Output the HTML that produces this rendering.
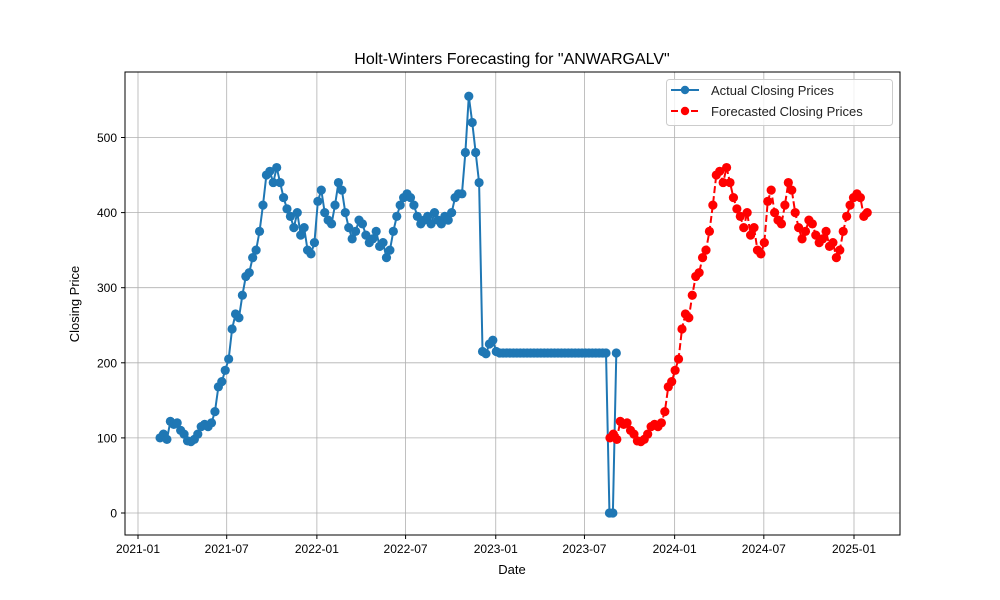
<!DOCTYPE html>
<html><head><meta charset="utf-8"><style>
body{margin:0;background:#fff;}
svg{display:block;font-family:"Liberation Sans","DejaVu Sans",sans-serif;}
</style></head><body>
<svg id="chart" width="1000" height="600" viewBox="0 0 1000 600">
<rect x="0" y="0" width="1000" height="600" fill="#fff"/>
<g id="grid"></g>
<g id="series"></g>
<rect x="125" y="72" width="775" height="463" fill="none" stroke="#000" stroke-width="1"/>
<g id="ticks"></g>
<text x="512" y="64" text-anchor="middle" font-size="16">Holt-Winters Forecasting for "ANWARGALV"</text>
<text x="512" y="574" text-anchor="middle" font-size="13">Date</text>
<text x="79" y="304" text-anchor="middle" font-size="13" transform="rotate(-90 79 304)">Closing Price</text>
<g>
<rect x="666.5" y="79.5" width="226" height="46" rx="3" fill="#fff" fill-opacity="0.8" stroke="#ccc"/>
<g>
<line x1="671" y1="90" x2="699" y2="90" stroke="#1f77b4" stroke-width="2"/>
<circle cx="685" cy="90" r="4.2" fill="#1f77b4"/>
<text x="711" y="95" font-size="13" fill="#222">Actual Closing Prices</text></g>
<g>
<line x1="671" y1="111" x2="699" y2="111" stroke="#f00" stroke-width="2" stroke-dasharray="7,3"/>
<circle cx="685" cy="111" r="4.2" fill="#f00"/>
<text x="711" y="116" font-size="13" fill="#222">Forecasted Closing Prices</text></g>
</g>
</svg>
<script>
const actualStart = "2021-02-15";
const actualValues = [100,105,98,122,118,120,110,105,96,95,98,105,115,118,115,120,135,168,175,190,205,245,265,260,290,315,320,340,350,375,410,450,455,440,460,440,420,405,395,380,400,370,380,350,345,360,415,430,400,390,385,410,440,430,400,380,365,375,390,385,370,360,365,375,355,360,340,350,375,395,410,420,425,420,410,395,385,390,395,385,400,390,385,395,390,400,420,425,425,480,555,520,480,440,215,212,225,230,215,213,213,213,213,213,213,213,213,213,213,213,213,213,213,213,213,213,213,213,213,213,213,213,213,213,213,213,213,213,213,213,213,0,0,213];
const forecastStart = "2023-08-22";
const forecastValues = [100,105,98,122,118,120,110,105,96,95,98,105,115,118,115,120,135,168,175,190,205,245,265,260,290,315,320,340,350,375,410,450,455,440,460,440,420,405,395,380,400,370,380,350,345,360,415,430,400,390,385,410,440,430,400,380,365,375,390,385,370,360,365,375,355,360,340,350,375,395,410,420,425,420,395,400];
const xTickLabels = ["2021-01","2021-07","2022-01","2022-07","2023-01","2023-07","2024-01","2024-07","2025-01"];
const yTickValues = [0,100,200,300,400,500];

const NS="http://www.w3.org/2000/svg";
const origin = Date.UTC(2021,0,1);
function dayOf(s){const p=s.split("-").map(Number);return (Date.UTC(p[0],p[1]-1,p[2]||1)-origin)/86400000;}
function xScale(d){return 138 + d*(716/1461);}
function yScale(v){return 513 - v*0.751;}
function mk(tag,attrs,parent){const e=document.createElementNS(NS,tag);for(const k in attrs)e.setAttribute(k,attrs[k]);parent.appendChild(e);return e;}
const grid=document.getElementById("grid"),ticks=document.getElementById("ticks"),series=document.getElementById("series");

xTickLabels.forEach(l=>{
  const x=xScale(dayOf(l+"-01"));
  const g=mk("line",{x1:x,x2:x,y1:72,y2:535,stroke:"#b0b0b0","stroke-width":0.8},grid);
  
  
  mk("line",{x1:x,x2:x,y1:535,y2:539,stroke:"#000"},ticks);
  const t=mk("text",{x:x,y:553,"text-anchor":"middle","font-size":"12"},ticks);
  t.textContent=l;
  
  
});
yTickValues.forEach(v=>{
  const y=yScale(v);
  const g=mk("line",{x1:125,x2:900,y1:y,y2:y,stroke:"#b0b0b0","stroke-width":0.8},grid);
  
  
  mk("line",{x1:121,x2:125,y1:y,y2:y,stroke:"#000"},ticks);
  const t=mk("text",{x:117,y:y+4.5,"text-anchor":"end","font-size":"12"},ticks);
  t.textContent=v;
  
  
});

function drawSeries(start,vals,color,dash,name){
  const d0=dayOf(start);
  const pts=vals.map((v,i)=>[xScale(d0+i*7),yScale(v)]);
  const g=mk("g",{},series);
  
  
  const attrs={points:pts.map(p=>p.join(",")).join(" "),fill:"none",stroke:color,"stroke-width":2,"stroke-linejoin":"round"};
  if(dash)attrs["stroke-dasharray"]=dash;
  const pl=mk("polyline",attrs,g);
  
  
  pts.forEach(p=>{
    const c=mk("circle",{cx:p[0],cy:p[1],r:4.6,fill:color},g);
    
    
  });
}
drawSeries(actualStart,actualValues,"#1f77b4",null,"actual-series");
drawSeries(forecastStart,forecastValues,"#ff0000","7,3","forecast-series");
</script>
</body></html>
